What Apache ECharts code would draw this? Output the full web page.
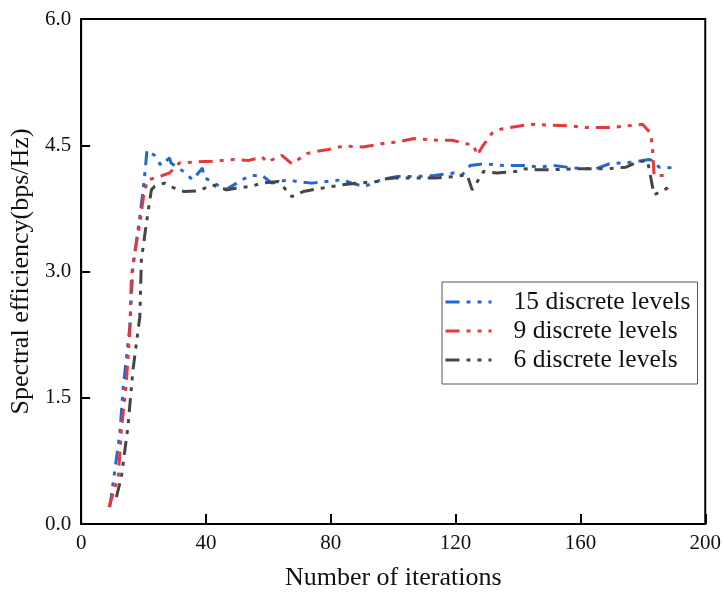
<!DOCTYPE html>
<html>
<head>
    <meta charset="utf-8">
    <title>Spectral efficiency</title>
    <script src="https://cdn.jsdelivr.net/npm/echarts@6/dist/echarts.min.js"></script>
</head>
<body style="margin:0">
    <div id="main" style="width:724px;height:597px;"></div>
    <script type="text/javascript">
        // values
        var xTicks = [0, 40, 80, 120, 160, 200];
        var yTicks = [0, 1.5, 3.0, 4.5, 6.0];

        var iter15 = [9.2, 12.4, 13.5, 15.6, 16.6, 18.8, 19.8, 20.3, 21.1, 23.5, 25.6, 28.3, 28.8, 33.1, 35.7, 38.9, 39.3, 42.6, 46.3, 51.6,
            54.3, 58, 61.1, 66.5, 69.1, 73.9, 78.6, 83.9, 86.6, 90.8, 96.1, 101.4, 107.8, 113.1, 119.5, 122.1, 124.7, 129, 135.4, 141.7,
            147, 151.3, 155.5, 160.8, 165, 169.3, 173.5, 177.2, 182, 183, 185.2, 189.8];
        var eff15 = [0.20, 1.08, 1.63, 2.34, 3.06, 3.65, 3.95, 4.12, 4.44, 4.38, 4.26, 4.35, 4.29, 4.18, 4.09, 4.23, 4.12, 4.05, 3.97, 4.09,
            4.14, 4.14, 4.05, 4.09, 4.07, 4.05, 4.07, 4.09, 4.05, 4.01, 4.09, 4.13, 4.13, 4.14, 4.17, 4.15, 4.26, 4.28, 4.26, 4.26,
            4.24, 4.26, 4.24, 4.22, 4.22, 4.28, 4.29, 4.30, 4.33, 4.32, 4.24, 4.23];

        var iter9 = [8.9, 11.9, 12.9, 14.5, 15.6, 16.1, 17.2, 18.8, 20.2, 21.4, 24.5, 28.3, 31.5, 36.2, 42, 49, 53.7, 58, 59.6, 64.3,
            67.5, 72.3, 74.4, 79.2, 83.9, 90.3, 96.7, 101.4, 106.7, 114.1, 118.9, 123.2, 125.8, 126.9, 128.5, 131.6, 134.3, 139, 143.8, 149.1,
            156.5, 161.8, 169.3, 175.1, 179.9, 182.5, 183.1, 183.6, 188.9];
        var eff9 = [0.20, 0.56, 1.12, 1.69, 2.30, 2.95, 3.23, 3.57, 3.95, 4.09, 4.12, 4.17, 4.29, 4.30, 4.31, 4.33, 4.32, 4.36, 4.30, 4.38,
            4.28, 4.40, 4.42, 4.45, 4.49, 4.48, 4.52, 4.54, 4.58, 4.56, 4.56, 4.52, 4.50, 4.38, 4.48, 4.64, 4.69, 4.72, 4.75, 4.74,
            4.73, 4.71, 4.71, 4.73, 4.75, 4.64, 4.46, 4.14, 4.14];

        var iter6 = [11.3, 12.9, 15, 16.6, 18.8, 19.3, 20.9, 22.5, 23.5, 26.7, 30.4, 33.1, 37.8, 42, 46.8, 49.5, 54.3, 58, 63.3, 67.5,
            71.2, 77, 83.9, 88.7, 95.1, 97.2, 100.4, 106.7, 113.6, 120, 123.7, 125.3, 129, 133.2, 139.6, 141.7, 146, 151.3, 158.1, 164.5,
            168.7, 174.6, 178.3, 181.5, 183.6, 187.8, 189.5];
        var eff6 = [0.32, 0.56, 1.16, 1.83, 2.46, 3.14, 3.57, 3.97, 4.01, 4.05, 3.98, 3.95, 3.96, 4.03, 3.97, 3.99, 4.01, 4.05, 4.07, 3.89,
            3.95, 3.99, 4.03, 4.05, 4.07, 4.10, 4.11, 4.11, 4.11, 4.13, 4.15, 3.97, 4.19, 4.17, 4.19, 4.22, 4.21, 4.21, 4.22, 4.22,
            4.22, 4.24, 4.30, 4.32, 3.91, 3.99, 4.04];

        var names = ['15 discrete levels', '9 discrete levels', '6 discrete levels'];
        var colors = ['#2167d6', '#e5383c', '#454545'];

        function pairs(xs, ys) {
            return xs.map(function (x, i) { return [x, ys[i]]; });
        }

        var serif = 'Liberation Serif';
        // dash, dot, dot
        var dashDotDot = [14, 7, 4, 7, 4, 7];

        var myChart = echarts.init(document.getElementById('main'));

        var option = {
            animation: false,
            backgroundColor: '#fff',
            grid: {
                left: 81, right: 14, top: 19, bottom: 73,
                show: true, borderColor: '#000', borderWidth: 2
            },
            legend: {
                data: names,
                orient: 'vertical',
                left: 442, top: 282,
                padding: [7, 7, 11, 2],
                itemGap: 3,
                itemWidth: 46, itemHeight: 14,
                itemStyle: { opacity: 0 },
                lineStyle: { type: dashDotDot, width: 3 },
                borderColor: '#555', borderWidth: 1,
                textStyle: {
                    fontFamily: serif, fontSize: 25.5, lineHeight: 25, color: '#111',
                    padding: [0, 0, 0, 17]
                }
            },
            xAxis: {
                type: 'value',
                min: 0, max: 200, interval: 40,
                name: 'Number of iterations',
                nameLocation: 'middle', nameGap: 41,
                nameTextStyle: { fontFamily: serif, fontSize: 26, color: '#111' },
                axisLine: { lineStyle: { color: '#000', width: 2 } },
                axisTick: { inside: true, length: 10, lineStyle: { color: '#000', width: 2 } },
                axisLabel: { fontFamily: serif, fontSize: 21, color: '#111', margin: 9 },
                splitLine: { show: false }
            },
            yAxis: {
                type: 'value',
                min: 0, max: 6, interval: 1.5,
                name: 'Spectral efficiency(bps/Hz)',
                nameLocation: 'middle', nameGap: 42,
                nameTextStyle: { fontFamily: serif, fontSize: 26, color: '#111' },
                axisLine: { show: true, lineStyle: { color: '#000', width: 2 } },
                axisTick: { show: true, inside: true, length: 9, lineStyle: { color: '#000', width: 2 } },
                axisLabel: {
                    fontFamily: serif, fontSize: 21, color: '#111', margin: 10,
                    formatter: function (v) { return v.toFixed(1); }
                },
                splitLine: { show: false }
            },
            series: [
                { data: pairs(iter15, eff15) },
                { data: pairs(iter9, eff9) },
                { data: pairs(iter6, eff6) }
            ].map(function (s, i) {
                return {
                    name: names[i],
                    type: 'line',
                    data: s.data,
                    symbol: 'none',
                    color: colors[i],
                    lineStyle: { color: colors[i], width: 3, type: dashDotDot, cap: 'butt' }
                };
            })
        };

        myChart.setOption(option);
    </script>
</body>
</html>
